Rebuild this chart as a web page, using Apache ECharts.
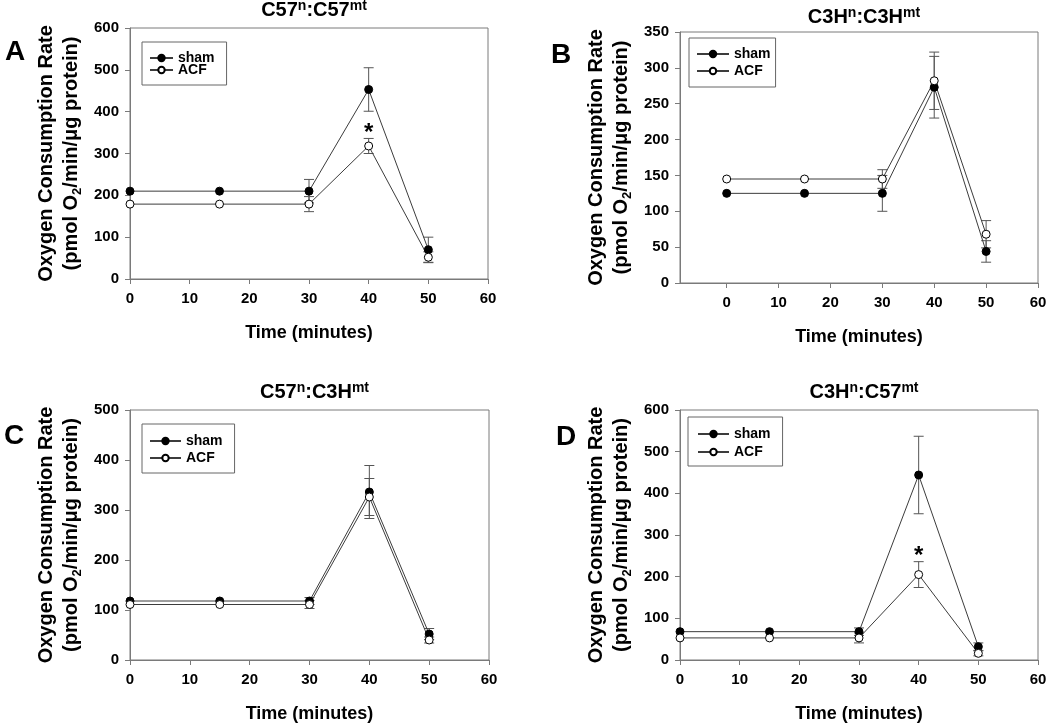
<!DOCTYPE html>
<html>
<head>
<meta charset="utf-8">
<script src="https://cdn.jsdelivr.net/npm/echarts@6/dist/echarts.min.js"></script>
<style>
  html,body{margin:0;padding:0;background:#fff;}
  #main{width:1050px;height:724px;}
</style>
</head>
<body>
<div id="main"></div>
<script>
// time points (minutes)
var times = [0, 15, 30, 40, 50];

// A: C57n:C57mt
var shamA = [210, 210, 210, 453, 70];
var shamErrA = [null, null, 28, 52, 30];
var acfA = [179, 179, 179, 318, 52];
var acfErrA = [null, null, 18, 18, 13];
var acfSigA = [0, 0, 0, 1, 0];

// B: C3Hn:C3Hmt
var shamB = [125, 125, 125, 273, 44];
var shamErrB = [null, null, 25, 43, 15];
var acfB = [145, 145, 145, 282, 68];
var acfErrB = [null, null, 13, 40, 19];

// C: C57n:C3Hmt
var shamC = [118, 118, 118, 336, 52];
var shamErrC = [null, null, 7, 53, 11];
var acfC = [111, 111, 111, 326, 40];
var acfErrC = [null, null, 8, 37, 6];

// D: C3Hn:C57mt
var shamD = [68, 68, 68, 444, 32];
var shamErrD = [null, null, 9, 93, 9];
var acfD = [53, 53, 53, 205, 16];
var acfErrD = [null, null, 12, 31, 6];
var acfSigD = [0, 0, 0, 1, 0];

var xTicks = [0, 10, 20, 30, 40, 50, 60];
var panelLetters = ['A', 'B', 'C', 'D'];

var FONT = "'Liberation Sans', Arial, sans-serif";
var myChart = echarts.init(document.getElementById('main'));

function pairs(vals){
  var out = [];
  for (var i = 0; i < times.length; i++) out.push([times[i], vals[i]]);
  return out;
}
function errData(vals, errs, sig){
  var out = [];
  for (var i = 0; i < times.length; i++){
    if (errs[i] == null) continue;
    out.push([times[i], vals[i] - errs[i], vals[i] + errs[i], sig ? sig[i] : 0]);
  }
  return out;
}
function renderErr(params, api){
  var x = api.value(0);
  var lo = api.coord([x, api.value(1)]);
  var hi = api.coord([x, api.value(2)]);
  var st = {stroke:'#555', lineWidth:1};
  var kids = [
    {type:'line', shape:{x1:lo[0], y1:lo[1], x2:hi[0], y2:hi[1]}, style:st},
    {type:'line', shape:{x1:hi[0]-5, y1:hi[1], x2:hi[0]+5, y2:hi[1]}, style:st},
    {type:'line', shape:{x1:lo[0]-5, y1:lo[1], x2:lo[0]+5, y2:lo[1]}, style:st}
  ];
  if (api.value(3)){
    kids.push({type:'text', style:{text:'*', x:hi[0], y:hi[1]-5, align:'center', verticalAlign:'middle',
      font:'bold 24px ' + FONT, fill:'#000'}});
  }
  return {type:'group', children:kids};
}

var grids = [
  {left:130, top:28, width:358, height:251},
  {left:680, top:32, width:358, height:251},
  {left:130, top:410, width:359, height:252},
  {left:680, top:410, width:358, height:252}
];
var yMax = [600, 350, 500, 600];
var yStep = [100, 50, 100, 100];
var xMin = [0, -9, 0, 0];
var titles = ['C57{s|n}:C57{s|mt}', 'C3H{s|n}:C3H{s|mt}', 'C57{s|n}:C3H{s|mt}', 'C3H{s|n}:C57{s|mt}'];
var titleTop = [-6, 1, 376, 376];
var letterPos = [[15, 53], [561, 56], [14, 437], [566, 438]];

var sets = [
  [shamA, shamErrA, acfA, acfErrA, acfSigA],
  [shamB, shamErrB, acfB, acfErrB, null],
  [shamC, shamErrC, acfC, acfErrC, null],
  [shamD, shamErrD, acfD, acfErrD, acfSigD]
];

var legendBox = [
  {left:142, top:42, itemWidth:23, gap:-2, textGap:16, padding:[9, 12, 8, 7]},
  {left:689, top:38, itemWidth:32, gap:3, textGap:8, padding:[9, 5, 9, 7]},
  {left:142, top:424, itemWidth:31, gap:3, textGap:8, padding:[10, 12, 8, 7]},
  {left:688, top:417, itemWidth:31, gap:4, textGap:8, padding:[10, 12, 7, 9]}
];

var axisCol = '#7a7a7a';
var xAxes = [], yAxes = [], series = [], titleArr = [], legends = [], graphics = [];

grids.forEach(function(g, k){
  g.show = true;
  g.borderColor = axisCol;
  g.borderWidth = 1;
  g.containLabel = false;

  var xa = {
    gridIndex:k, type:'value', min:xMin[k], max:60,
    name:'Time (minutes)', nameLocation:'middle', nameGap:45,
    nameTextStyle:{fontFamily:FONT, fontWeight:'bold', fontSize:18, color:'#000'},
    axisLine:{onZero:false, lineStyle:{color:axisCol}},
    axisTick:{inside:false, length:5, lineStyle:{color:axisCol}},
    axisLabel:{fontFamily:FONT, fontWeight:'bold', fontSize:15, color:'#000', margin:12},
    splitLine:{show:false}
  };
  if (xMin[k] === 0){
    xa.interval = 10;
  } else {
    xa.axisTick.customValues = xTicks;
    xa.axisLabel.customValues = xTicks;
  }
  xAxes.push(xa);

  yAxes.push({
    gridIndex:k, type:'value', min:0, max:yMax[k], interval:yStep[k],
    name:'Oxygen Consumption Rate\n(pmol O{sub|2}/min/\u03bcg protein)',
    nameLocation:'middle', nameGap:46, nameRotate:90,
    nameTextStyle:{fontFamily:FONT, fontWeight:'bold', fontSize:20, color:'#000', lineHeight:25,
      rich:{sub:{fontFamily:FONT, fontWeight:'bold', fontSize:13, verticalAlign:'bottom', lineHeight:14, padding:[8, 0, 0, 0]}}},
    axisLine:{show:true, onZero:false, lineStyle:{color:axisCol}},
    axisTick:{show:true, inside:false, length:5, lineStyle:{color:axisCol}},
    axisLabel:{fontFamily:FONT, fontWeight:'bold', fontSize:15, color:'#000', margin:11},
    splitLine:{show:false}
  });

  var s = sets[k];
  series.push({
    type:'custom', name:'shamErr', xAxisIndex:k, yAxisIndex:k, z:1,
    renderItem:renderErr, data:errData(s[0], s[1], null), silent:true
  });
  series.push({
    type:'custom', name:'acfErr', xAxisIndex:k, yAxisIndex:k, z:1,
    renderItem:renderErr, data:errData(s[2], s[3], s[4]), silent:true
  });
  series.push({
    type:'line', name:'sham', xAxisIndex:k, yAxisIndex:k, z:3,
    data:pairs(s[0]), symbol:'circle', symbolSize:8, showSymbol:true,
    lineStyle:{color:'#3c3c3c', width:1},
    itemStyle:{color:'#000', borderColor:'#000', borderWidth:1},
    emphasis:{disabled:true}
  });
  series.push({
    type:'line', name:'ACF', xAxisIndex:k, yAxisIndex:k, z:3,
    data:pairs(s[2]), symbol:'circle', symbolSize:8, showSymbol:true,
    lineStyle:{color:'#3c3c3c', width:1},
    itemStyle:{color:'#fff', borderColor:'#000', borderWidth:1},
    emphasis:{disabled:true}
  });

  titleArr.push({
    text:titles[k], left:g.left + g.width / 2, top:titleTop[k], textAlign:'center',
    textStyle:{fontFamily:FONT, fontWeight:'bold', fontSize:20, color:'#000', lineHeight:22,
      rich:{s:{fontFamily:FONT, fontWeight:'bold', fontSize:14, color:'#000', verticalAlign:'top', lineHeight:14}}}
  });

  var lb = legendBox[k];
  legends.push({
    data:['sham', 'ACF'], orient:'vertical', left:lb.left, top:lb.top,
    itemWidth:lb.itemWidth, itemHeight:8, itemGap:lb.gap, itemTextGap:lb.textGap,
    padding:lb.padding, borderColor:'#666', borderWidth:1, selectedMode:false,
    textStyle:{fontFamily:FONT, fontWeight:'bold', fontSize:14, color:'#000', lineHeight:14}
  });

  graphics.push({
    type:'text', left:letterPos[k][0] - 10, top:letterPos[k][1] - 15,
    style:{text:panelLetters[k], font:'bold 28px ' + FONT, fill:'#000'}
  });
});

var option = {
  animation:false,
  backgroundColor:'#fff',
  title:titleArr,
  legend:legends,
  grid:grids,
  xAxis:xAxes,
  yAxis:yAxes,
  graphic:graphics,
  series:series
};
myChart.setOption(option);
</script>
</body>
</html>
